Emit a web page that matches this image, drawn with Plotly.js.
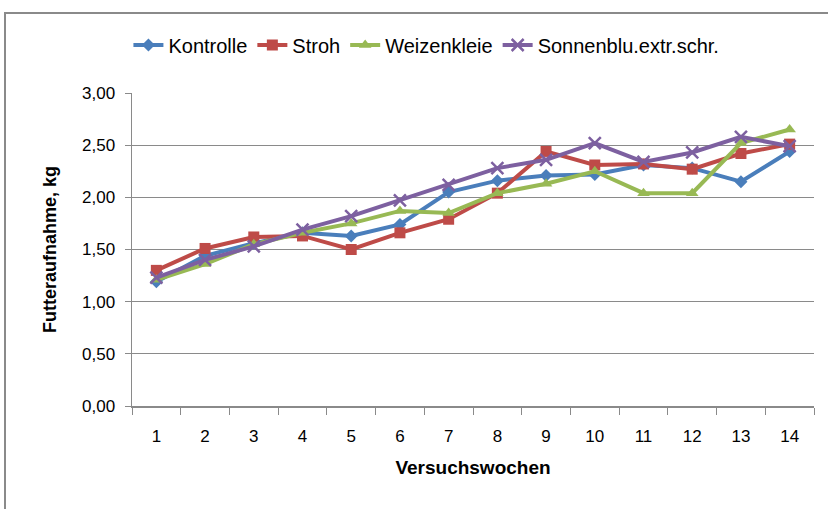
<!DOCTYPE html>
<html><head><meta charset="utf-8">
<script src="https://cdn.plot.ly/plotly-3.0.1.min.js"></script>
<style>
body{margin:0;padding:0;background:#fff;}
#wrap{position:relative;width:828px;height:509px;}
#chart{width:828px;height:509px;}
#frame{position:absolute;left:4px;top:12px;width:840px;height:520px;border:2px solid #8a8a8a;pointer-events:none;box-sizing:border-box;}
</style></head>
<body>
<div id="wrap"><div id="chart"></div><div id="frame"></div></div>
<script>
const weeks = ["1","2","3","4","5","6","7","8","9","10","11","12","13","14"];
const kontrolle = [1.19,1.44,1.56,1.66,1.63,1.74,2.05,2.16,2.21,2.22,2.31,2.28,2.15,2.44];
const stroh = [1.30,1.51,1.62,1.63,1.50,1.66,1.79,2.04,2.44,2.31,2.32,2.27,2.42,2.51];
const weizenkleie = [1.21,1.36,1.55,1.66,1.75,1.87,1.85,2.04,2.13,2.25,2.04,2.04,2.52,2.65];
const sonnenblu = [1.23,1.40,1.53,1.69,1.82,1.97,2.12,2.28,2.36,2.52,2.34,2.43,2.58,2.49];
const names = ["Kontrolle","Stroh","Weizenkleie","Sonnenblu.extr.schr."];
const colors = ["#4A7EBB","#BE4B48","#98B954","#7D60A0"];
const symbols = ["diamond","square","triangle-up","x-thin-open"];
const sizes = [10,11,11,12];
const series = [kontrolle, stroh, weizenkleie, sonnenblu];
const FONT = "Liberation Sans, Arial, sans-serif";
const traces = series.map((s,i)=>({
  x: weeks, y: s, name: names[i], type: "scatter", mode: "lines+markers",
  line: {color: colors[i], width: 4},
  marker: {symbol: symbols[i], size: sizes[i], color: colors[i], line: {color: colors[i], width: i===3?2.5:0}}
}));
const layout = {
  width: 828, height: 509,
  margin: {l: 132, r: 14, t: 93, b: 103},
  paper_bgcolor: "#fff", plot_bgcolor: "#fff",
  separators: ",.",
  font: {family: FONT, size: 17, color: "#000"},
  showlegend: true,
  legend: {orientation: "h", x: 0.515, xref: "container", xanchor: "center",
           y: 1 - 45/509, yref: "container", yanchor: "middle",
           font: {family: FONT, size: 20}, itemwidth: 30, traceorder: "normal", tracegroupgap: 0},
  xaxis: {type: "category", range: [-0.5, 13.5], tickson: "boundaries", ticks: "outside", ticklen: 7,
          tickcolor: "#8a8a8a", showline: true, linecolor: "#8a8a8a", linewidth: 1.5,
          showgrid: false, zeroline: false, ticklabelstandoff: 14,
          tickfont: {family: FONT, size: 17},
          title: {text: "<b>Versuchswochen</b>", font: {family: FONT, size: 19}, standoff: 16}},
  yaxis: {range: [0, 3], dtick: 0.5, tickformat: ".2f", ticks: "outside", ticklen: 6,
          tickcolor: "#8a8a8a", showline: true, linecolor: "#8a8a8a", linewidth: 1.5,
          showgrid: true, gridcolor: "#8a8a8a", gridwidth: 1, zeroline: false,
          tickfont: {family: FONT, size: 17}, ticklabelstandoff: 6,
          title: {text: "<b>Futteraufnahme, kg</b>", font: {family: FONT, size: 18}, standoff: 20}}
};
Plotly.newPlot("chart", traces, layout, {displayModeBar: false, staticPlot: true});
</script>
</body></html>
